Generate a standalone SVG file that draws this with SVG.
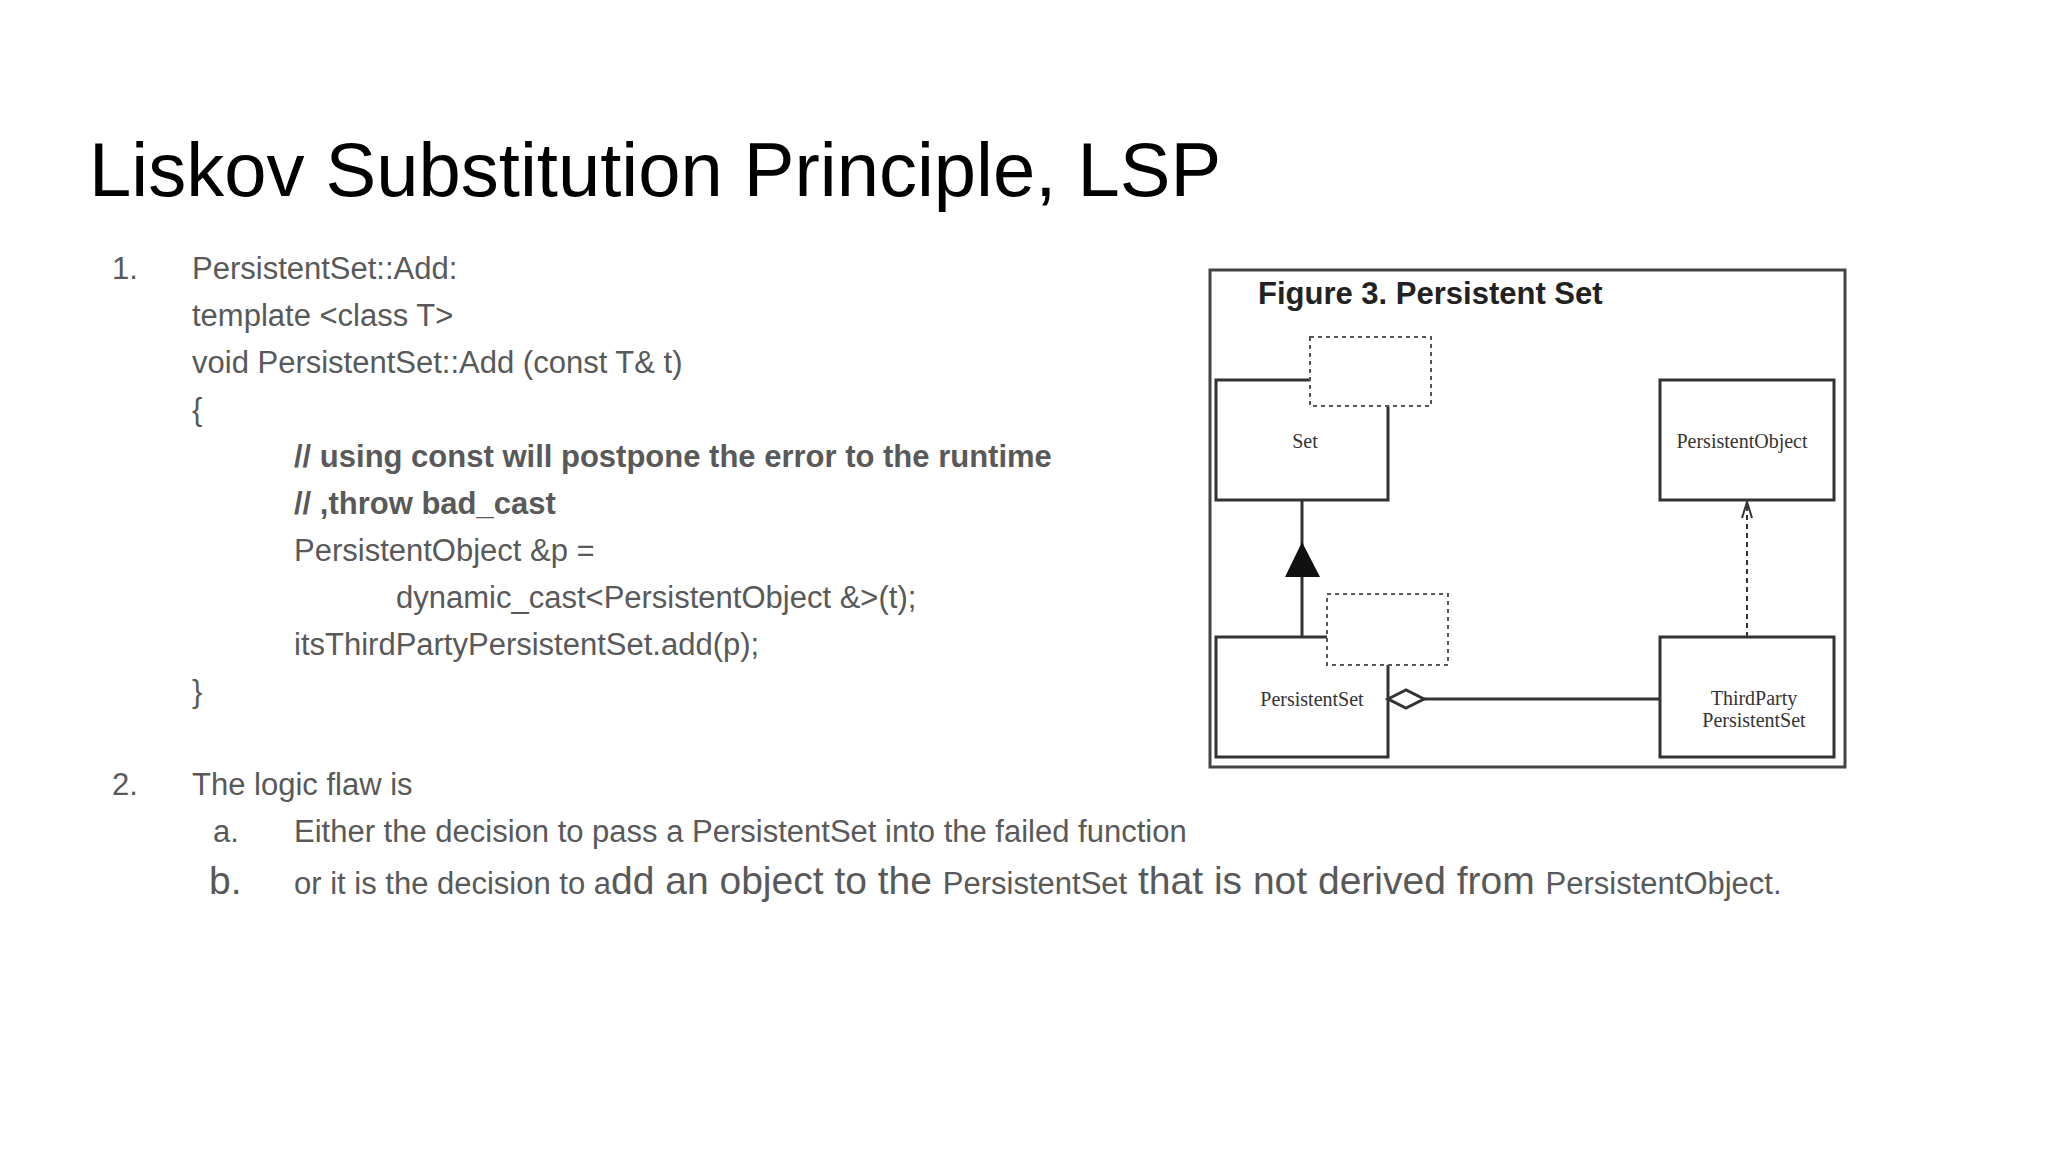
<svg xmlns="http://www.w3.org/2000/svg" width="2048" height="1152" viewBox="0 0 2048 1152">
<style>
.t{font-family:"Liberation Sans",Arial,sans-serif;fill:#595959;font-size:31px}
.b{font-weight:bold}
.L{font-size:39px}
.box{fill:#fff;stroke:#333;stroke-width:3}
.dash{fill:#fff;stroke:#555;stroke-width:2;stroke-dasharray:4 4}
.lbl{font-family:"Liberation Serif","Times New Roman",serif;font-size:20px;fill:#333;text-anchor:middle}
.ln{stroke:#333;stroke-width:3;fill:none}
</style>
<rect width="2048" height="1152" fill="#fff"/>
<text x="89" y="196" style="font-family:'Liberation Sans',Arial,sans-serif;font-size:76px;fill:#000">Liskov Substitution Principle, LSP</text>
<g id="code">
<text class="t" x="112" y="279">1.</text>
<text class="t" x="192" y="279">PersistentSet::Add:</text>
<text class="t" x="192" y="326">template &lt;class T&gt;</text>
<text class="t" x="192" y="373">void PersistentSet::Add (const T&amp; t)</text>
<text class="t" x="192" y="420">{</text>
<text class="t b" x="294" y="467">// using const will postpone the error to the runtime</text>
<text class="t b" x="294" y="514">// ,throw bad_cast</text>
<text class="t" x="294" y="561">PersistentObject &amp;p =</text>
<text class="t" x="396" y="608">dynamic_cast&lt;PersistentObject &amp;&gt;(t);</text>
<text class="t" x="294" y="655">itsThirdPartyPersistentSet.add(p);</text>
<text class="t" x="192" y="702">}</text>
<text class="t" x="112" y="795">2.</text>
<text class="t" x="192" y="795">The logic flaw is</text>
<text class="t" x="213" y="842">a.</text>
<text class="t" x="294" y="842">Either the decision to pass a PersistentSet into the failed function</text>
<text class="t L" x="209" y="894">b.</text>
<text class="t" x="294" y="894">or it is the decision to a<tspan class="L">dd an object to the </tspan>PersistentSet<tspan class="L"> that is not derived from </tspan>PersistentObject.</text>
</g>
<g id="figure">
<rect x="1210" y="270" width="635" height="497" fill="#fff" stroke="#444" stroke-width="3"/>
<text x="1258" y="304" style="font-family:'Liberation Sans',Arial,sans-serif;font-weight:bold;font-size:31px;fill:#222">Figure 3. Persistent Set</text>
</g>
<g id="set"><rect class="box" x="1216" y="380" width="172" height="120"/><rect class="dash" x="1310" y="337" width="121" height="69"/><text class="lbl" x="1305" y="448">Set</text></g>
<g id="persistentObject"><rect class="box" x="1660" y="380" width="174" height="120"/><text class="lbl" x="1742" y="448">PersistentObject</text></g>
<g id="persistentSet"><rect class="box" x="1216" y="637" width="172" height="120"/><rect class="dash" x="1327" y="594" width="121" height="71"/><text class="lbl" x="1312" y="706">PersistentSet</text></g>
<g id="thirdParty"><rect class="box" x="1660" y="637" width="174" height="120"/><text class="lbl" x="1754" y="705">ThirdParty</text><text class="lbl" x="1754" y="727">PersistentSet</text></g>
<g id="connectors">
<line class="ln" x1="1302" y1="637" x2="1302" y2="500"/>
<polygon points="1302,542 1285,577 1320,577" fill="#111"/>
<line class="ln" x1="1424" y1="699" x2="1660" y2="699"/>
<polygon points="1388,699 1406,690 1424,699 1406,708" fill="#fff" stroke="#333" stroke-width="3"/>
<line x1="1747" y1="637" x2="1747" y2="504" stroke="#333" stroke-width="2" stroke-dasharray="5 4"/>
<polyline points="1742,518 1747,502 1752,518" fill="none" stroke="#333" stroke-width="2"/>
</g>
</svg>
